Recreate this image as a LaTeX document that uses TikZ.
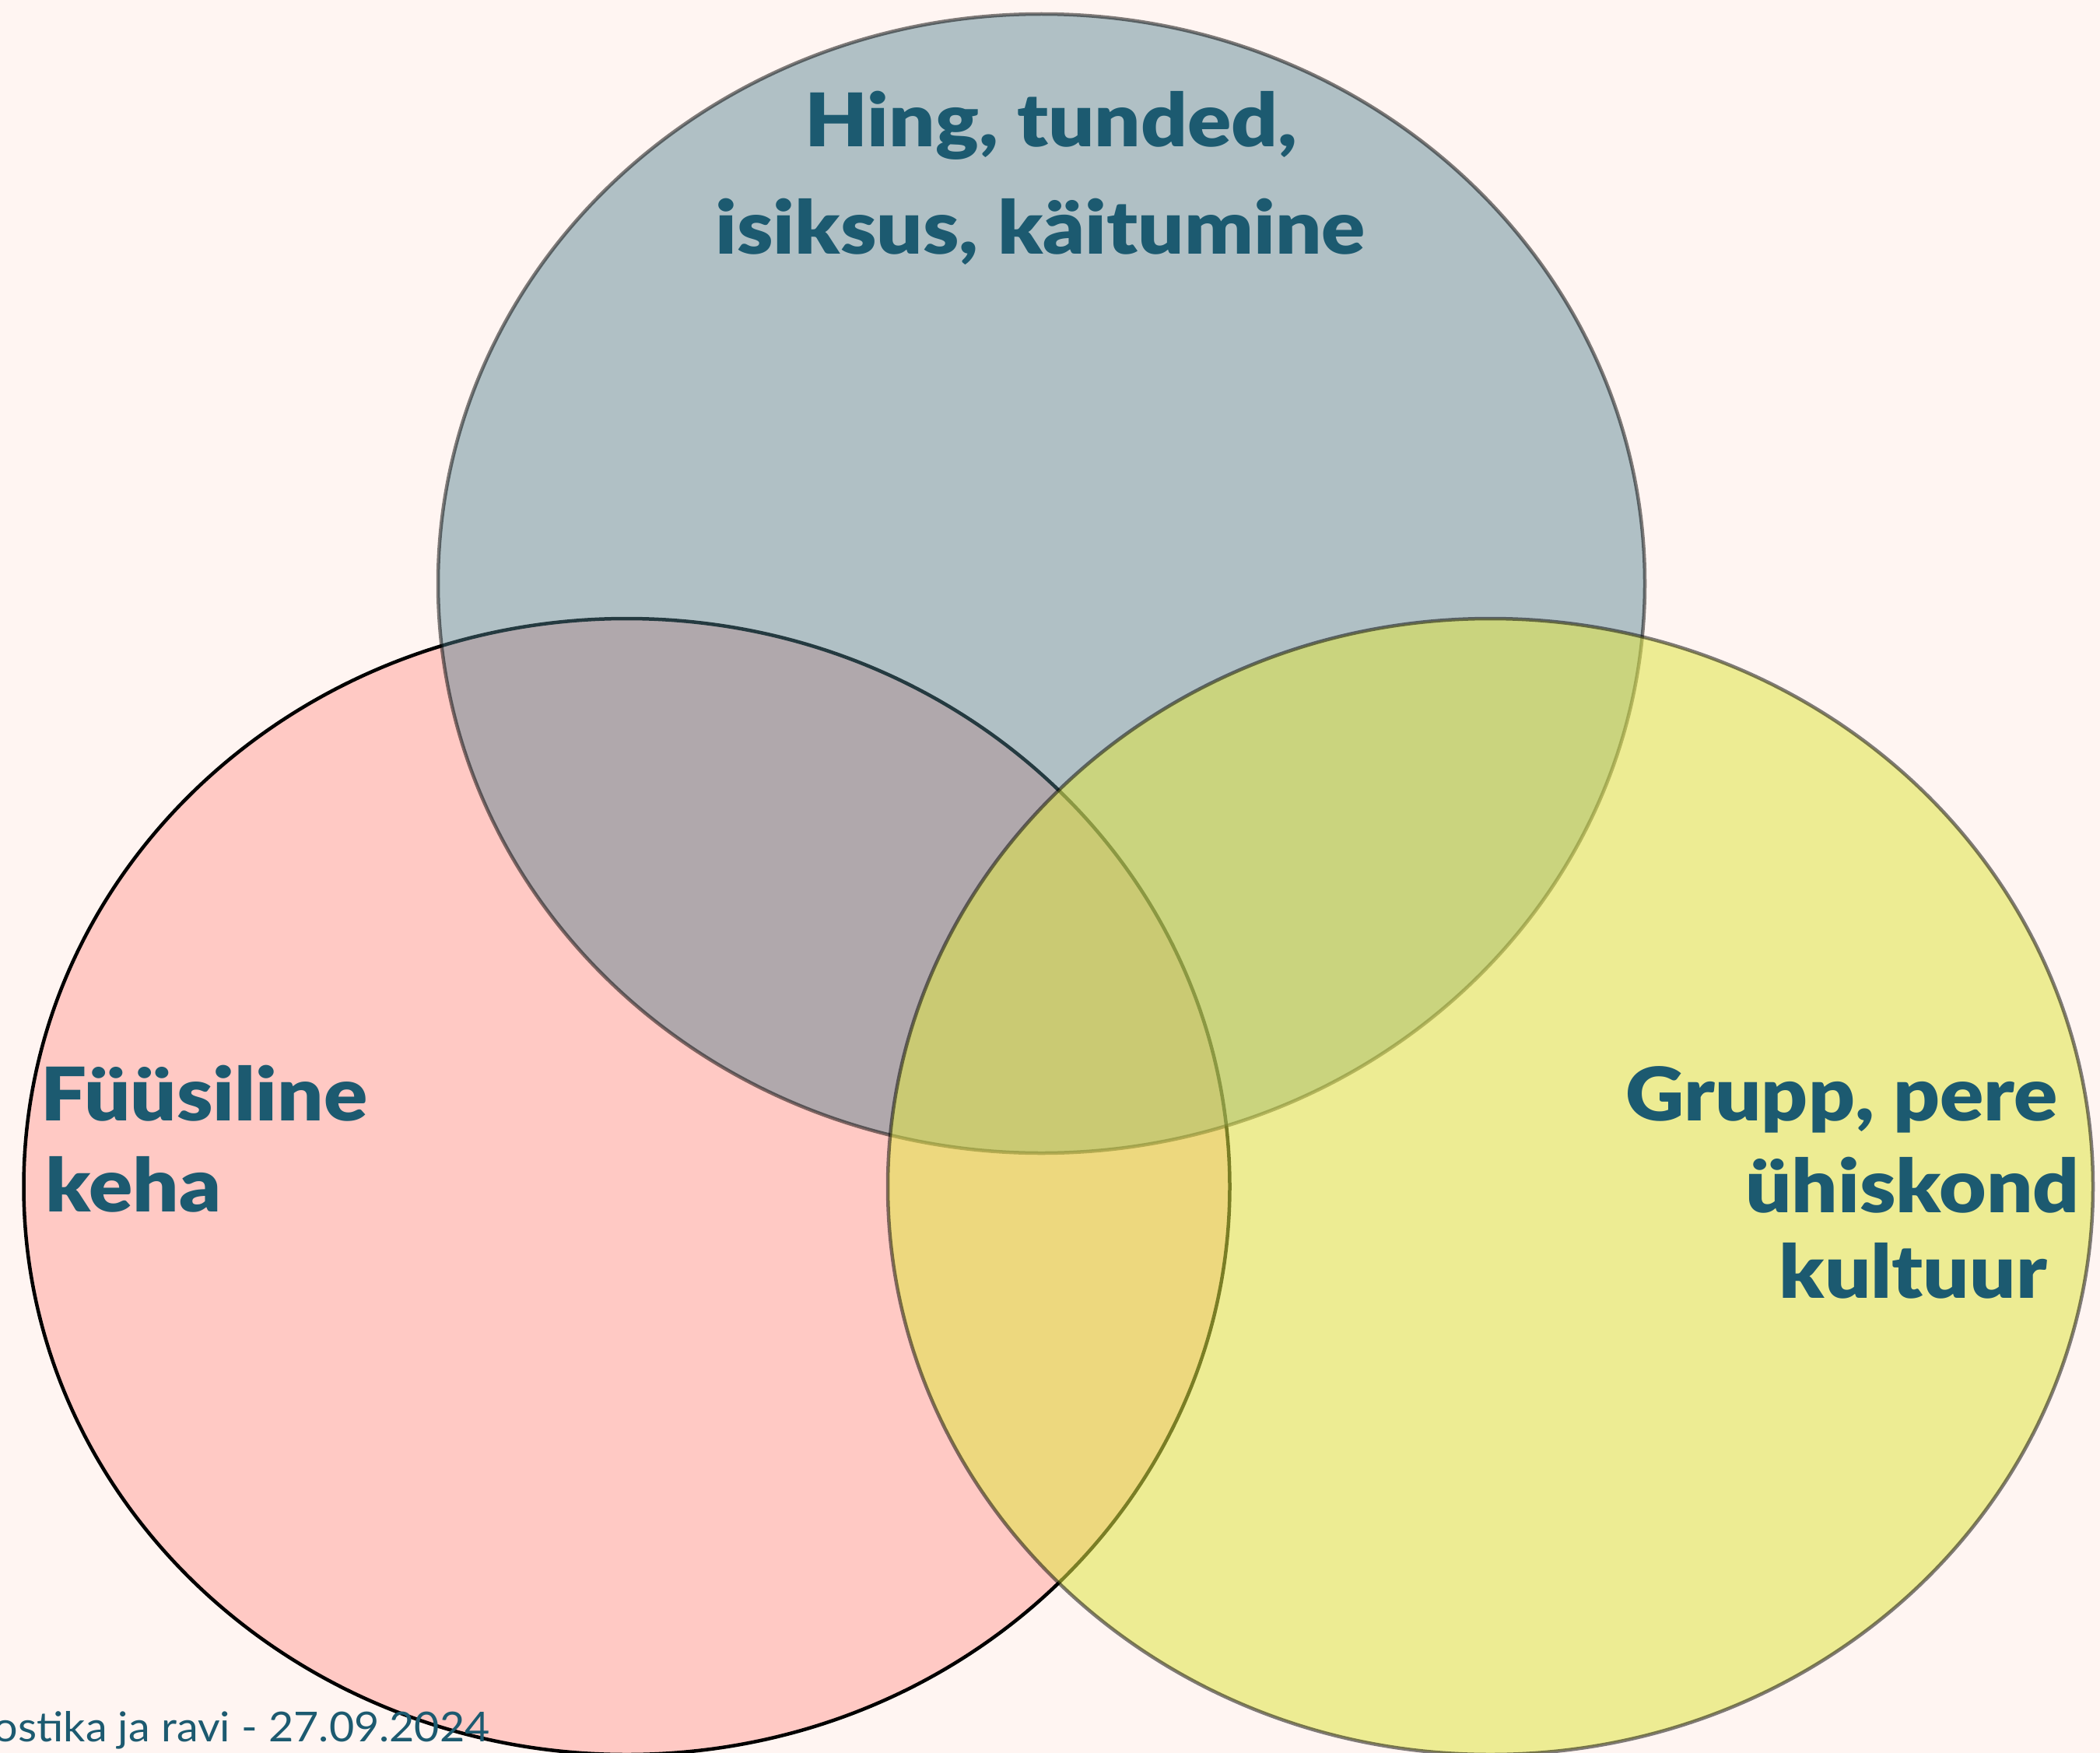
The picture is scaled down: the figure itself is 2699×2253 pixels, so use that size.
\documentclass[tikz,border=0pt]{standalone}
\usepackage{fontspec}
\setmainfont{Lato}
\newfontfamily\headfont{Lato Black}[FakeStretch=1.1]
\newfontfamily\notefont{Lato}[FakeStretch=1.05]
\definecolor{pagebg}{RGB}{255,245,242}
\definecolor{bodypink}{RGB}{255,201,196}
\definecolor{mindteal}{RGB}{82,129,144}
\definecolor{socialyellow}{RGB}{224,230,69}
\definecolor{labelteal}{RGB}{28,90,112}
\begin{document}
\begin{tikzpicture}[x=1pt,y=-1pt,
  ring/.style={line width=4.5pt},
  softring/.style={ring, draw=black, draw opacity=0.5},
  biglabel/.style={font=\headfont\fontsize{95}{117}\selectfont, text=labelteal, inner sep=0pt},
  smalllabel/.style={font=\notefont\fontsize{53}{64}\selectfont, text=labelteal, inner sep=0pt}]
% page
\fill[pagebg] (0,0) rectangle (2699,2253);
\useasboundingbox (0,0) rectangle (2699,2253);
% three overlapping spheres
\filldraw[ring, fill=bodypink, draw=black] (805.5,1525) ellipse [x radius=775, y radius=730];
\filldraw[softring, fill=mindteal, fill opacity=0.45] (1338.5,750) ellipse [x radius=775.5, y radius=732];
\filldraw[softring, fill=socialyellow, fill opacity=0.55] (1915.5,1525) ellipse [x radius=774.5, y radius=730];
% labels
\node[biglabel, anchor=base] (mind1) at (1351,189) {Hing, tunded,};
\node[biglabel, anchor=base] (mind2) at (1337,326) {isiksus, käitumine};
\node[biglabel, anchor=base west] (body1) at (52,1440) {Füüsiline};
\node[biglabel, anchor=base west] (body2) at (58,1557) {keha};
\node[biglabel, anchor=base east] (social1) at (2645,1440) {Grupp, pere};
\node[biglabel, anchor=base east] (social2) at (2673,1558) {ühiskond};
\node[biglabel, anchor=base east] (social3) at (2631,1668) {kultuur};
\node[smalllabel, anchor=base east] (footer) at (630,2238) {ostika ja ravi - 27.09.2024};
\end{tikzpicture}
\end{document}
